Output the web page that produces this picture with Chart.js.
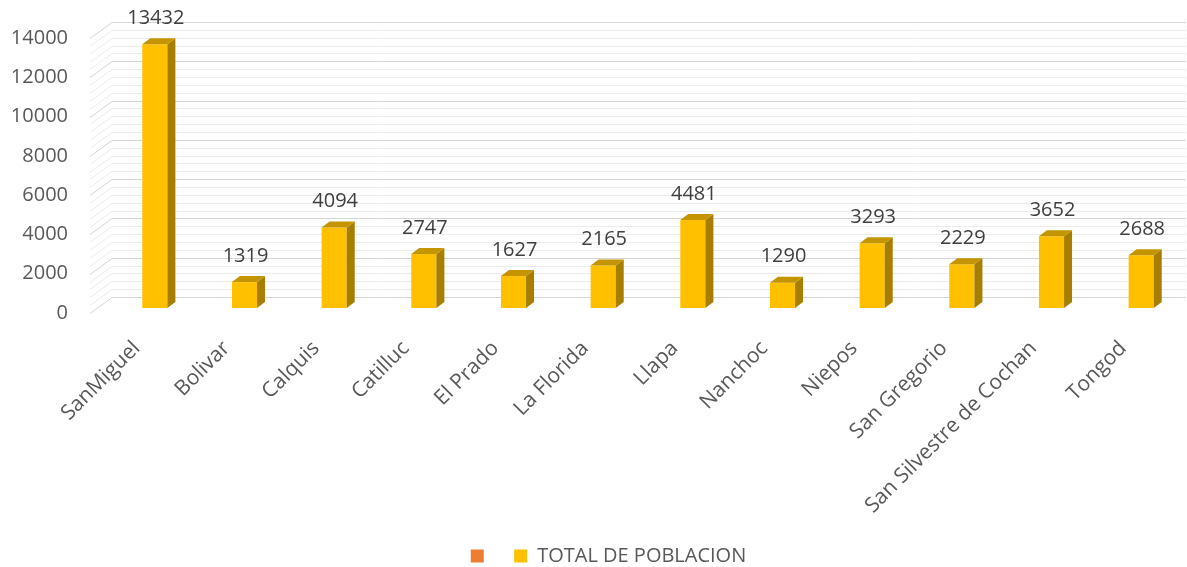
<!DOCTYPE html>
<html>
<head>
<meta charset="utf-8">
<script src="https://cdn.jsdelivr.net/npm/chart.js@4"></script>
<style>
  html, body { margin: 0; padding: 0; background: #fff; }
  #wrap { width: 1187px; height: 567px; }
</style>
</head>
<body>
<div id="wrap"><canvas id="myChart"></canvas></div>
<script>
// distritos y poblacion total
const distritos = ['SanMiguel', 'Bolivar', 'Calquis', 'Catilluc', 'El Prado', 'La Florida',
  'Llapa', 'Nanchoc', 'Niepos', 'San Gregorio', 'San Silvestre de Cochan', 'Tongod'];
const poblacion = [13432, 1319, 4094, 2747, 1627, 2165, 4481, 1290, 3293, 2229, 3652, 2688];
// serie vacia que aparece en la leyenda (naranja)
const serieVacia = [];

const FONT = "'Open Sans', sans-serif";

// lineas de fondo con efecto 3D (pared del fondo + lado izquierdo)
const grid3d = {
  id: 'grid3d',
  beforeDatasetsDraw(chart) {
    const c = chart.ctx, y = chart.scales.y, a = chart.chartArea;
    c.save();
    c.lineWidth = 1;
    for (let v = 0; v <= 14000; v += 400) {
      const yf = Math.round(y.getPixelForValue(v) + 5) + 0.5;
      const yb = yf - 16;
      c.strokeStyle = v % 2000 === 0 ? '#d4d4d4' : '#ececec';
      c.beginPath();
      c.moveTo(a.left - 20, yf);
      c.lineTo(a.left + 2, yb);
      c.lineTo(a.right, yb);
      c.stroke();
    }
    c.restore();
  }
};

// caras laterales y superior de las barras + etiquetas
const bars3d = {
  id: 'bars3d',
  afterDatasetsDraw(chart) {
    const c = chart.ctx;
    const meta = chart.getDatasetMeta(1);
    c.save();
    meta.data.forEach((bar, i) => {
      const p = bar.getProps(['x', 'y', 'base', 'width'], true);
      const l = p.x - p.width / 2, r = p.x + p.width / 2;
      const dx = 8, dy = 6;
      c.fillStyle = '#a87e00';
      c.beginPath();
      c.moveTo(r, p.y); c.lineTo(r + dx, p.y - dy);
      c.lineTo(r + dx, p.base - dy); c.lineTo(r, p.base);
      c.closePath(); c.fill();
      c.fillStyle = '#c49500';
      c.beginPath();
      c.moveTo(l, p.y); c.lineTo(l + dx, p.y - dy);
      c.lineTo(r + dx, p.y - dy); c.lineTo(r, p.y);
      c.closePath(); c.fill();

      c.fillStyle = '#404040';
      c.font = '20px ' + FONT;
      c.textAlign = 'center';
      c.textBaseline = 'middle';
      c.fillText(poblacion[i], p.x + 1, p.y - 26);
    });
    c.restore();
  }
};

// mover un poco la leyenda (como en excel)
const moverLeyenda = {
  id: 'moverLeyenda',
  afterLayout(chart) {
    const lg = chart.legend;
    lg.left += 10; lg.right += 10;
    lg.top += 11; lg.bottom += 11;
  }
};

new Chart(document.getElementById('myChart'), {
  type: 'bar',
  data: {
    labels: distritos,
    datasets: [
      {
        label: '  ',
        data: serieVacia,
        backgroundColor: '#ED7D31',
        grouped: false
      },
      {
        label: 'TOTAL DE POBLACION',
        data: poblacion,
        backgroundColor: '#FFC000',
        grouped: false,
        barPercentage: 0.56,
        categoryPercentage: 0.5
      }
    ]
  },
  options: {
    responsive: true,
    maintainAspectRatio: false,
    animation: false,
    layout: { padding: { left: 11, right: 1, top: 33, bottom: 2 } },
    scales: {
      y: {
        min: 0,
        max: 14000,
        grid: { display: false, drawTicks: false },
        border: { display: false },
        afterFit: s => { s.width = 99; s.paddingTop = 0; s.paddingBottom = 0; },
        ticks: {
          stepSize: 2000,
          padding: 42,
          labelOffset: 5,
          color: '#595959',
          font: { family: FONT, size: 20 },
          callback: v => String(v)
        }
      },
      x: {
        grid: { display: false },
        border: { display: false },
        afterFit: s => { s.height = 217; s.paddingLeft = 0; s.paddingRight = 0; },
        ticks: {
          minRotation: 45,
          maxRotation: 45,
          autoSkip: false,
          labelOffset: -18,
          padding: 20,
          color: '#595959',
          font: { family: FONT, size: 21 }
        }
      }
    },
    plugins: {
      legend: {
        position: 'bottom',
        labels: {
          boxWidth: 13,
          boxHeight: 13,
          color: '#595959',
          font: { family: FONT, size: 20 }
        }
      },
      tooltip: { enabled: false }
    }
  },
  plugins: [grid3d, bars3d, moverLeyenda]
});
</script>
</body>
</html>
